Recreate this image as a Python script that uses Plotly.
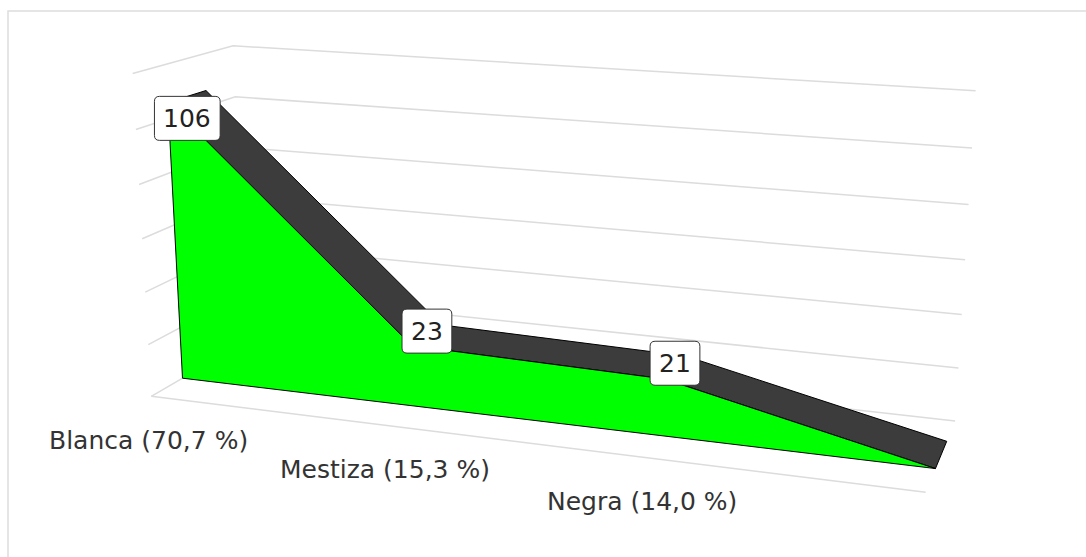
import numpy as np
import plotly.graph_objects as go

# ---------------- data ----------------
categories = ["Blanca (70,7 %)", "Mestiza (15,3 %)", "Negra (14,0 %)", ""]
values = [106, 23, 21, 0]
y_ticks = [0, 20, 40, 60, 80, 100, 120]

# ---------------- view (3D perspective camera) ----------------
W, H = 1086, 557
NX = len(categories) - 1
YMAX = y_ticks[-1]
# projective camera acting on normalised axis coords (x/NX, y/YMAX, depth, 1)
CAMERA = np.array([
    [0.662313, -0.024704, 0.118365, 0.151282],
    [0.036360, -0.326236, -0.022000, 0.396358],
    [-0.121059, -0.045810, 0.096794, 1.000000],
])
VIEW_SCALE = 1000.0
Z_FRONT, Z_BACK = 0.31, 0.6928     # depth extent of the area series


def proj(x, y, z):
    p = CAMERA @ np.array([x / NX, y / YMAX, z, 1.0])
    return p[0] / p[2] * VIEW_SCALE, p[1] / p[2] * VIEW_SCALE


def xy(points):
    return [p[0] for p in points], [p[1] for p in points]


fig = go.Figure()
GRID = "#dcdcdc"

# outer chart frame
fig.add_trace(go.Scatter(x=[8, 8, W], y=[H, 11, 11], mode="lines",
                         line=dict(color="#dddddd", width=1.5), hoverinfo="skip"))

# value gridlines on left wall + back wall
for t in y_ticks:
    gx, gy = xy([proj(0, t, 0), proj(0, t, 1), proj(NX, t, 1)])
    fig.add_trace(go.Scatter(x=gx, y=gy, mode="lines",
                             line=dict(color=GRID, width=1.5), hoverinfo="skip"))
# floor front edge (category axis)
gx, gy = xy([proj(0, 0, 0), proj(NX, 0, 0)])
fig.add_trace(go.Scatter(x=gx, y=gy, mode="lines",
                         line=dict(color=GRID, width=1.5), hoverinfo="skip"))

# area series: top strip (dark) and front face (green)
front = [proj(i, v, Z_FRONT) for i, v in enumerate(values)]
back = [proj(i, v, Z_BACK) for i, v in enumerate(values)]
sx, sy = xy(front + back[::-1] + [front[0]])
fig.add_trace(go.Scatter(x=sx, y=sy, mode="lines", fill="toself", fillcolor="#3c3c3c",
                         line=dict(color="#000000", width=1), hoverinfo="skip"))
fx, fy = xy(front + [proj(0, 0, Z_FRONT), front[0]])
fig.add_trace(go.Scatter(x=fx, y=fy, mode="lines", fill="toself", fillcolor="#00ff00",
                         line=dict(color="#000000", width=1), hoverinfo="skip"))

FONT = "DejaVu Sans, Verdana, sans-serif"

# category labels along the floor front edge
for i, c in enumerate(categories):
    if not c:
        continue
    x, y = proj(i, 0, 0)
    fig.add_annotation(x=x, y=y, text=c, showarrow=False, xanchor="center", yanchor="middle",
                       xshift=-3, yshift=-44, font=dict(family=FONT, size=25, color="#333333"))

# value labels in rounded boxes
vmax = max(values)
BOX_H, DIGIT_W, PAD_X, RAD = 44, 15.9, 9, 5
for i, v in enumerate(values):
    if i == NX:
        continue
    x, y = proj(i, v, (Z_FRONT + Z_BACK) / 2)
    bw = len(str(v)) * DIGIT_W + 2 * PAD_X
    cy = y + BOX_H / 2 if v == vmax else y - 4
    x0, x1, y0, y1 = x - bw / 2, x + bw / 2, cy - BOX_H / 2, cy + BOX_H / 2
    path = (f"M{x0+RAD},{y0} L{x1-RAD},{y0} Q{x1},{y0} {x1},{y0+RAD} L{x1},{y1-RAD} "
            f"Q{x1},{y1} {x1-RAD},{y1} L{x0+RAD},{y1} Q{x0},{y1} {x0},{y1-RAD} "
            f"L{x0},{y0+RAD} Q{x0},{y0} {x0+RAD},{y0} Z")
    fig.add_shape(type="path", path=path, xref="x", yref="y", layer="above",
                  fillcolor="white", line=dict(color="#333333", width=1))
    fig.add_annotation(x=x, y=cy, text=str(v), showarrow=False, xanchor="center",
                       yanchor="middle", font=dict(family=FONT, size=25, color="#222222"))

fig.update_layout(width=W, height=H, margin=dict(l=0, r=0, t=0, b=0), showlegend=False,
                  plot_bgcolor="white", paper_bgcolor="white",
                  xaxis=dict(range=[0, W], visible=False, fixedrange=True),
                  yaxis=dict(range=[H, 0], visible=False, fixedrange=True))
fig.write_html("out.html")
